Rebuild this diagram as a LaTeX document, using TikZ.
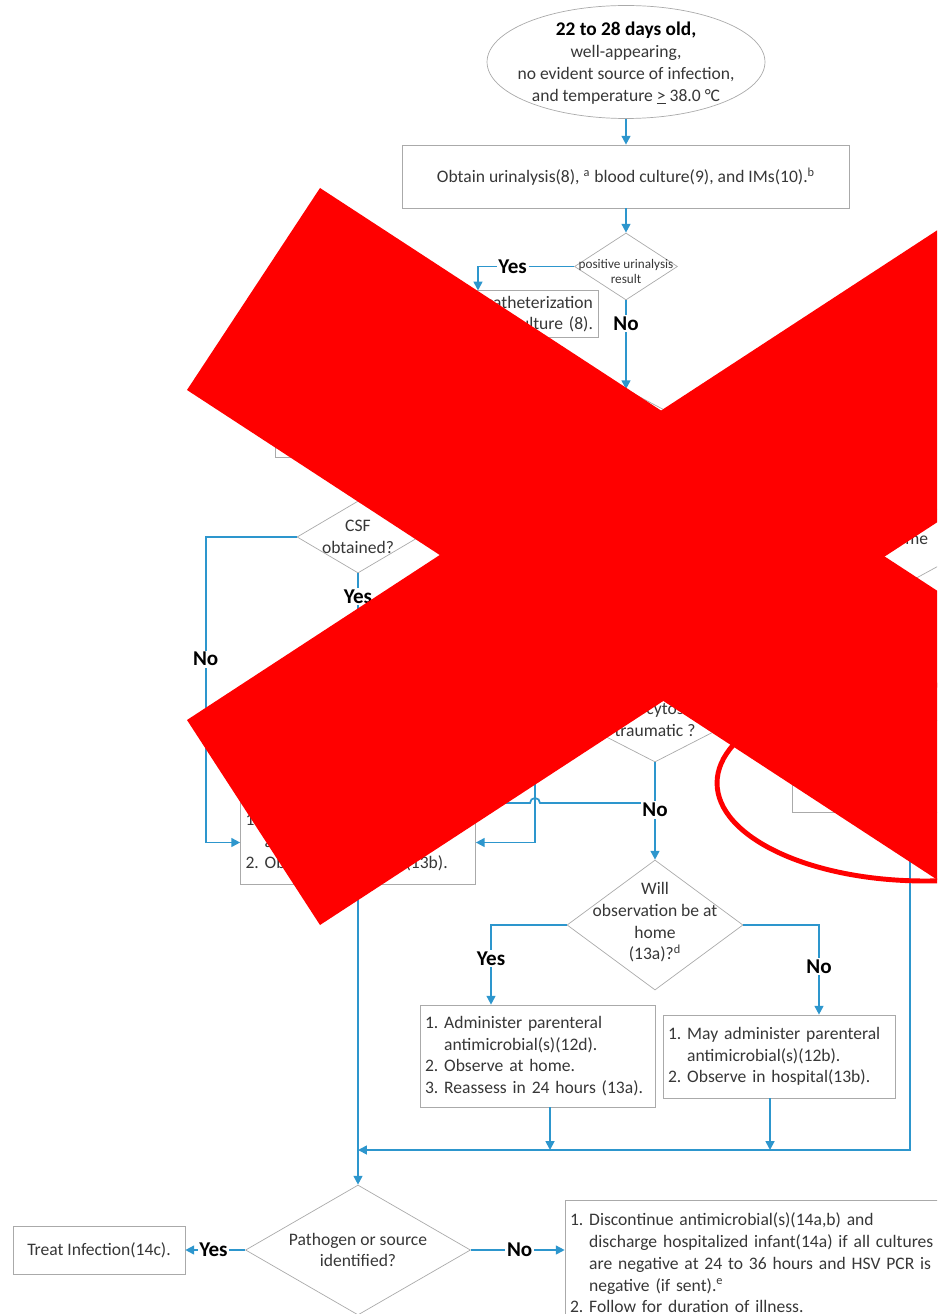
\documentclass[tikz,border=0pt]{standalone}
\usepackage{fontspec}
\setmainfont{Carlito}
\usetikzlibrary{shapes.geometric,arrows.meta}
\definecolor{flowblue}{RGB}{45,150,205}
\definecolor{boxgray}{RGB}{170,170,170}
\definecolor{txtgray}{RGB}{55,55,55}
\definecolor{xred}{RGB}{255,0,0}
\newcommand{\ind}{\hphantom{1.\ }}
\frenchspacing

\begin{document}
\begin{tikzpicture}[x=0.02cm,y=-0.02cm,
    box/.style={draw=boxgray,rectangle,inner sep=0.1cm,text=txtgray,font=\fontsize{10}{12.35}\selectfont},
    dia/.style={draw=boxgray,diamond,inner sep=0pt},
    dtext/.style={text=txtgray,align=center,inner sep=0pt,font=\fontsize{10}{12.35}\selectfont},
    arr/.style={draw=flowblue,line width=1pt,-{Triangle[width=5pt,length=5pt]}},
    lnk/.style={draw=flowblue,line width=1pt},
    yn/.style={font=\fontsize{12}{12}\selectfont\bfseries,fill=white,inner sep=1pt}
    ]
    \useasboundingbox (0,0) rectangle (937,1314);
    \clip (0,0) rectangle (937,1314);

    % upper part
    \node[ellipse,draw=boxgray,minimum width=5.56cm,minimum height=2.26cm,inner sep=0pt,
        label={[dtext,yshift=-0.03cm]center:{{\fontsize{11}{12.35}\selectfont\bfseries\color{black}22 to 28 days old,}\\well-appearing,\\no evident source of infection,\\and temperature \underline{>} 38.0 °C}}] (start) at (626,62) {};
    \node[box,minimum width=8.94cm,minimum height=1.26cm] (obtain) at (626,176.5)
        {Obtain urinalysis(8), \textsuperscript{a} blood culture(9), and IMs(10).\textsuperscript{b}};
    \node[dia,minimum width=2.06cm,minimum height=1.34cm,
        label={[dtext,yshift=-0.1cm,font=\fontsize{7.5}{9}\selectfont]center:{positive urinalysis\\result}}] (posua) at (626,266.5) {};
    \node[box,minimum width=4.8cm,minimum height=0.88cm,text width=4.6cm,align=right] (cath) at (478,314)
        {Obtain catheterization\\urine culture (8).\hspace{3pt}};
    \node[dia,minimum width=3.2cm,minimum height=1.7cm] (lp) at (626,432) {};
    \node[box,minimum width=3.9cm,minimum height=0.94cm] (lpbox) at (372.5,433.5) {};

    % CSF branch
    \node[dia,minimum width=2.44cm,minimum height=1.44cm,
        label={[dtext]center:{CSF\\obtained?}}] (csf) at (358,537) {};
    \coordinate (csfy) at (358,640);
    \node[box,minimum width=4.7cm,minimum height=1.66cm,text width=4.5cm,align=left] (lbox) at (358,842.5)
        {1. Administer parenteral\\\ind antimicrobial(s)(12b).\\2. Observe in hospital(13b).};
    \node[dia,minimum width=3.12cm,minimum height=1.6cm,
        label={[dtext,yshift=0.05cm]center:{Pleocytosis\\traumatic ?}}] (trau) at (655,722) {};
    \node[dia,minimum width=4.4cm,minimum height=2.4cm] (rdia) at (880,538) {};
    \node[dtext,anchor=west] (rdtxt) at (905,540) {me};
    \node[box,minimum width=4.72cm,minimum height=1.84cm] (rbox) at (910,766) {};

    % observation
    \node[dia,minimum width=3.52cm,minimum height=2.6cm,
        label={[dtext,yshift=0.05cm]center:{Will\\observation be at\\home\\(13a)?\textsuperscript{d}}}] (will) at (655,925) {};
    \node[box,minimum width=4.7cm,minimum height=2.04cm,text width=4.5cm,align=left] (home) at (537.5,1056)
        {1. Administer parenteral\\\ind antimicrobial(s)(12d).\\2. Observe at home.\\3. Reassess in 24 hours (13a).};
    \node[box,minimum width=4.64cm,minimum height=1.66cm,text width=4.44cm,align=left] (hosp) at (779,1056.5)
        {1. May administer parenteral\\\ind antimicrobial(s)(12b).\\2. Observe in hospital(13b).};

    % final test
    \node[dia,minimum width=4.5cm,minimum height=2.6cm,
        label={[dtext]center:{Pathogen or source\\identified?}}] (path) at (358,1250) {};
    \node[box,minimum width=3.44cm,minimum height=0.96cm] (treat) at (99,1250) {Treat Infection(14c).};
    \node[box,minimum width=8.4cm,minimum height=2.52cm,text width=8.2cm,align=left] (disc) at (775,1263)
        {1. Discontinue antimicrobial(s)(14a,b) and\\\ind discharge hospitalized infant(14a) if all cultures\\\ind are negative at 24 to 36 hours and HSV PCR is\\\ind negative (if sent).\textsuperscript{e}\\2. Follow for duration of illness.};

    \coordinate (join) at (358,1150);
    \coordinate (hopa) at (480,803);
    \coordinate (hopb) at (535,803);
    \coordinate (mrg) at (655,803);
    \coordinate (vtop) at (535,770);

    % connectors
    \draw[arr] (start.south) -- (obtain.north);
    \draw[arr] (obtain.south) -- (posua.north);
    \draw[arr] (posua.west) -| node[yn,pos=0.32]{Yes} (cath.north);
    \draw[arr] (posua.south) -- node[yn,pos=0.26]{No} (lp.north);
    \draw[lnk] (csf.south) -- node[yn,pos=0.35]{Yes} (csfy);
    \draw[arr] (csf.west) -- ++(-91,0) |- node[yn,pos=0.2]{No} (lbox.west);
    \draw[arr] (vtop) |- (lbox.east);
    \draw[lnk] (hopa) -- ([xshift=-0.1cm]hopb) arc[start angle=180,end angle=0,radius=0.1cm] -- (mrg);
    \draw[arr] (trau.south) -- node[yn,pos=0.49]{No} (will.north);
    \draw[arr] (will.west) -| node[yn,pos=0.71]{Yes} ([xshift=-0.93cm]home.north);
    \draw[arr] (will.east) -| node[yn,pos=0.73]{No} ([xshift=0.8cm]hosp.north);
    \draw[arr] ([xshift=0.25cm]home.south) -- ([xshift=0.25cm]home.south |- join);
    \draw[arr] ([xshift=-0.18cm]hosp.south) -- ([xshift=-0.18cm]hosp.south |- join);
    \draw[arr] (rbox.south) |- (join);
    \draw[arr] (lbox.south) -- (path.north);
    \draw[arr] (path.west) -- node[yn,pos=0.53]{Yes} (path.west -| treat.east);
    \draw[arr] (path.east) -- node[yn,pos=0.52]{No} (path.east -| disc.west);

    % red marks on top
    \draw[xred,line width=2.8pt] (925,783) ellipse [x radius=4.16cm,y radius=1.96cm];
    \fill[xred] (320,188) -- (1100,697) -- (1100,986) -- (187,390) -- cycle;
    \fill[xred] (187,720) -- (1100,124) -- (1100,416) -- (320,925) -- cycle;
\end{tikzpicture}
\end{document}
